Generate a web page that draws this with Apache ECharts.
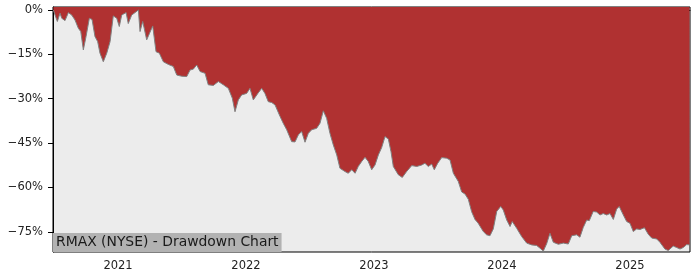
<!DOCTYPE html>
<html><head><meta charset="utf-8">
<script src="https://cdn.jsdelivr.net/npm/echarts@6/dist/echarts.min.js"></script>
<style>html,body{margin:0;padding:0;background:#fff}#c{width:700px;height:280px}</style>
</head><body><div id="c"></div><script>
const years = [2020.495,2020.508,2020.526,2020.547,2020.560,2020.586,2020.612,2020.638,2020.664,2020.690,
2020.709,2020.729,2020.750,2020.776,2020.797,2020.820,2020.841,2020.859,2020.885,2020.912,
2020.938,2020.963,2020.990,2021.010,2021.029,2021.063,2021.080,2021.107,2021.133,2021.159,
2021.172,2021.193,2021.224,2021.245,2021.271,2021.297,2021.323,2021.354,2021.393,2021.432,
2021.459,2021.498,2021.537,2021.563,2021.588,2021.615,2021.641,2021.680,2021.705,2021.745,
2021.784,2021.823,2021.862,2021.893,2021.914,2021.940,2021.966,2022.005,2022.031,2022.057,
2022.096,2022.123,2022.148,2022.174,2022.201,2022.227,2022.266,2022.291,2022.318,2022.357,
2022.383,2022.409,2022.435,2022.461,2022.487,2022.513,2022.552,2022.578,2022.604,2022.630,
2022.656,2022.682,2022.709,2022.734,2022.773,2022.799,2022.826,2022.852,2022.877,2022.904,
2022.930,2022.955,2022.982,2023.008,2023.034,2023.060,2023.086,2023.112,2023.133,2023.151,
2023.190,2023.221,2023.255,2023.295,2023.334,2023.373,2023.398,2023.424,2023.451,2023.471,
2023.498,2023.529,2023.568,2023.594,2023.620,2023.659,2023.685,2023.711,2023.737,2023.763,
2023.789,2023.813,2023.828,2023.854,2023.880,2023.906,2023.932,2023.959,2023.990,2024.010,
2024.037,2024.063,2024.080,2024.115,2024.154,2024.193,2024.232,2024.271,2024.297,2024.323,
2024.349,2024.375,2024.401,2024.440,2024.479,2024.518,2024.545,2024.584,2024.609,2024.635,
2024.662,2024.682,2024.713,2024.740,2024.766,2024.791,2024.818,2024.844,2024.870,2024.896,
2024.916,2024.948,2024.974,2025.000,2025.026,2025.052,2025.078,2025.113,2025.143,2025.170,
2025.209,2025.234,2025.273,2025.299,2025.338,2025.365,2025.391,2025.416,2025.443,2025.465];
const drawdown = [0,-1.7,-3.9,-1.1,-2.8,-3.6,-0.9,-1.7,-3.4,-6.2,
-7.3,-13.5,-9,-2.8,-3.2,-9,-10.7,-14.6,-17.5,-14.6,
-10.7,-2,-2.8,-5.6,-1.7,-0.9,-4.6,-1.7,-0.9,0,
-7.3,-3.9,-10.1,-8,-5.4,-14.1,-14.6,-17.5,-18.4,-19.1,
-22,-22.4,-22.5,-20.3,-20,-18.6,-20.8,-21.4,-25.3,-25.5,
-24.2,-25.3,-26.5,-29.8,-34.4,-30.4,-28.7,-28.2,-26.5,-30.4,
-28,-26.5,-28.2,-31,-31.3,-32.1,-36,-38.3,-40.5,-44.5,
-44.6,-42.2,-41.1,-44.7,-41.7,-40.5,-40,-38.3,-34.1,-36.6,
-41.7,-45.6,-49,-53.5,-54.6,-55.2,-54,-55.2,-52.9,-51.2,
-49.8,-51.2,-54,-52.4,-49,-46.5,-42.8,-43.6,-47.9,-52.9,
-55.7,-56.6,-54.6,-52.6,-52.9,-52.4,-51.8,-52.9,-52.1,-54,
-51.8,-49.9,-50.1,-50.7,-55.2,-58,-61.5,-62.2,-64,-68.2,
-70.8,-72,-71.4,-74.9,-76,-76.3,-74,-68.1,-66.4,-67.6,
-71,-73.2,-71.5,-73.8,-76.6,-78.8,-79.4,-79.6,-80.5,-81.5,
-79,-75.5,-78.5,-79.2,-78.8,-79.1,-76.3,-76,-76.8,-73.5,
-71,-71.2,-68.1,-68.3,-69.3,-68.8,-69.3,-68.8,-70.8,-67.3,
-66.4,-69.3,-71.5,-72.1,-74.9,-74,-74.2,-73.6,-75.8,-77.1,
-77.4,-78.5,-80.8,-81.3,-79.8,-80.3,-80.8,-80.3,-79.3,-79.4];
const xTicks = [2021, 2022, 2023, 2024, 2025];
const yTicks = [0, -15, -30, -45, -60, -75];
const titleText = 'RMAX (NYSE) - Drawdown Chart';

const chart = echarts.init(document.getElementById('c'), null, {renderer: 'canvas'});
const font = 'DejaVu Sans';
chart.setOption({
  animation: false,
  grid: {left: 53, right: 10, top: 7, bottom: 28, show: true, backgroundColor: '#ececec',
         borderColor: '#000', borderWidth: 1, z: 0},
  title: {text: titleText, left: 53, top: 233, padding: [2, 3, 3, 3], backgroundColor: '#b2b2b2',
          itemGap: 0,
          textStyle: {fontFamily: font, fontSize: 13.9, fontWeight: 'normal', color: '#1a1a1a', lineHeight: 14}},
  xAxis: {type: 'value', min: 2020.492, max: 2025.469,
    axisLine: {show: true, lineStyle: {color: '#000', width: 1}},
    axisTick: {show: true, customValues: xTicks, length: 5, lineStyle: {color: '#000'}},
    axisLabel: {customValues: xTicks, margin: 8, fontFamily: font, fontSize: 11.5, color: '#222',
                formatter: v => String(Math.round(v))},
    splitLine: {show: false}},
  yAxis: {type: 'value', min: -81.8, max: 1.0,
    axisLine: {show: true, lineStyle: {color: '#000', width: 1}},
    axisTick: {show: true, customValues: yTicks, length: 5, lineStyle: {color: '#000'}},
    axisLabel: {customValues: yTicks, margin: 10, fontFamily: font, fontSize: 11.5, color: '#222',
                formatter: v => (v < 0 ? '\u2212' + Math.abs(Math.round(v)) : String(Math.round(v))) + '%'},
    splitLine: {show: false}},
  series: [{type: 'line', data: years.map((y, i) => [y, drawdown[i]]), symbol: 'none',
    lineStyle: {color: '#808080', width: 1},
    areaStyle: {color: '#b03131', opacity: 1, origin: 'end'}, z: 2}]
});
</script></body></html>
